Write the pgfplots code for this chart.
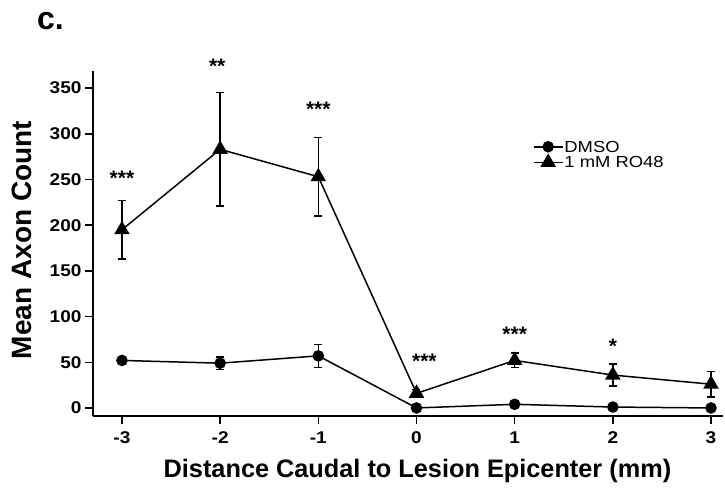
\documentclass[border=0pt]{standalone}
\usepackage{pgfplots}
\pgfplotsset{compat=1.18}
\usepackage{fontspec}
\setmainfont{Liberation Sans}
\newfontfamily\widefont[FakeStretch=1.12]{Liberation Sans}
\newfontfamily\legfont[FakeStretch=1.15]{Liberation Sans}
\begin{document}
\begin{tikzpicture}
\begin{axis}[
  scale only axis,
  width=630pt, height=345pt,
  xmin=-3.295, xmax=3.122,
  ymin=-8.8, ymax=368.7,
  axis lines=left,
  axis line style={-, line width=1.8pt},
  tick align=outside,
  major tick length=8pt,
  tick style={line width=1.5pt, black},
  xtick={-3,-2,-1,0,1,2,3},
  ytick={0,50,100,150,200,250,300,350},
  /pgf/number format/assume math mode=true,
  ticklabel style={font=\widefont\bfseries\fontsize{17}{17}\selectfont},
  xticklabel style={yshift=-4pt},
  xlabel={\bfseries Distance Caudal to Lesion Epicenter (mm)},
  ylabel={\bfseries Mean Axon Count},
  every axis x label/.style={at={(axis description cs:0.515,0)}, yshift=-61pt, anchor=base, font=\fontsize{25.3}{25.3}\selectfont},
  every axis y label/.style={at={(axis description cs:0,0.51)}, xshift=-61pt, rotate=90, anchor=base, font=\fontsize{28}{28}\selectfont},
  clip=false,
  legend style={draw=none, fill=none, at={(axis description cs:0.698,0.80)}, anchor=north west,
    font=\legfont\fontsize{16}{16}\selectfont, row sep=1.5pt, inner sep=0pt,
    nodes={inner sep=1pt, text depth=0pt}},
  legend cell align=left,
  legend image code/.code={\draw[#1, mark repeat=2, mark phase=2] plot coordinates {(0pt,0pt) (14.5pt,0pt) (29pt,0pt)};},
]
\addplot[black, line width=1.5pt, mark=*, mark size=5pt,
  error bars/.cd, y dir=both, y explicit,
  error bar style={line width=1.5pt},
  error mark options={rotate=90, mark size=4pt, line width=1.5pt}]
  coordinates {
  (-3,52) +- (0,3)
  (-2,49) +- (0,7)
  (-1,57) +- (0,12.5)
  (0,0) +- (0,1)
  (1,4) +- (0,1)
  (2,1) +- (0,1)
  (3,0) +- (0,1)
};
\addlegendentry{DMSO}
\addplot[black, line width=1.5pt, mark=triangle*, mark size=7.5pt,
  error bars/.cd, y dir=both, y explicit,
  error bar style={line width=1.5pt},
  error mark options={rotate=90, mark size=4pt, line width=1.5pt}]
  coordinates {
  (-3,195) +- (0,32)
  (-2,283) +- (0,62)
  (-1,253) +- (0,43)
  (0,16) +- (0,4)
  (1,52) +- (0,8)
  (2,36) +- (0,12)
  (3,26) +- (0,14)
};
\addlegendentry{1 mM RO48}
\begin{scope}[every node/.style={font=\bfseries\fontsize{21}{21}\selectfont, anchor=base, inner sep=0pt}]
\node at (axis cs:-3,243) {***};
\node at (axis cs:-2.03,366) {**};
\node at (axis cs:-1,319) {***};
\node at (axis cs:0.08,43) {***};
\node at (axis cs:1,73) {***};
\node at (axis cs:2,60) {*};
\end{scope}
\end{axis}
\node[anchor=base west, inner sep=0pt, font=\bfseries\fontsize{32}{32}\selectfont] at ([shift={(-56pt,386pt)}]current axis.south west) {c.};
\pgfresetboundingbox
\path[use as bounding box] (current axis.south west) ++(-93pt,-71pt) rectangle ++(725pt,487pt);
\end{tikzpicture}
\end{document}
